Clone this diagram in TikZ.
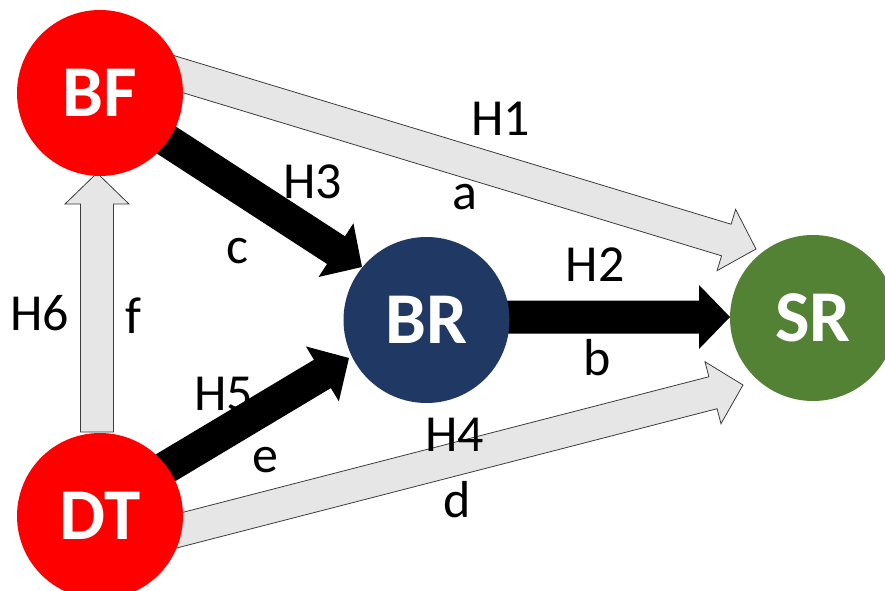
\documentclass[tikz,border=0pt]{standalone}
\usepackage{fontspec}
\setmainfont{Carlito}
\usetikzlibrary{calc,backgrounds}
\definecolor{nodered}{RGB}{255,0,0}
\definecolor{navyblue}{RGB}{31,56,100}
\definecolor{srgreen}{RGB}{84,130,53}
\definecolor{arrowgray}{RGB}{231,230,230}
\definecolor{edgegray}{RGB}{60,60,60}
\newcommand\blockarrow[3]{%
  \coordinate (ba-h) at ($(#2)!31pt!(#1)$);
  \path[#3] ($(#1)!16.5pt!-90:(#2)$) -- ($(ba-h)!16.5pt!90:(#1)$) -- ($(ba-h)!32pt!90:(#1)$) -- (#2) -- ($(ba-h)!32pt!-90:(#1)$) -- ($(ba-h)!16.5pt!-90:(#1)$) -- ($(#1)!16.5pt!90:(#2)$) -- cycle;
}
\begin{document}
\begin{tikzpicture}[x=1pt,y=1pt,
  circ/.style={circle, minimum size=166pt, inner sep=0pt, outer sep=0pt, text=white,
    font=\fontsize{73}{80}\selectfont\bfseries},
  lbl/.style={inner sep=0pt, font=\fontsize{52}{60}\selectfont},
  grayarrow/.style={fill=arrowgray, draw=edgegray, line width=0.8pt, line join=miter},
  blackarrow/.style={fill=black}]
\useasboundingbox (0,0) rectangle (885,590);
\node[circ, fill=nodered] (bf) at (100,497) {BF};
\node[circ, fill=nodered] (dt) at (100,74) {DT};
\node[circ, fill=navyblue] (br) at (426.5,270) {BR};
\node[circ, fill=srgreen] (sr) at (813,272) {SR};

\coordinate (s1) at ($(bf.center)+(30,33.5)$);
\coordinate (t1) at ($(sr.center)+(-57,69)$);
\coordinate (s2) at ($(dt.center)+(30,-27)$);
\coordinate (t2) at ($(sr.center)+(-70,-67)$);
\coordinate (s3) at ($(dt.center)+(-3,84)$);
\coordinate (t3) at ($(bf.center)+(-3,-80)$);
\coordinate (s4) at ($(bf.center)+(0,-4)$);
\coordinate (t4) at ($(br.center)+(-64.5,53)$);
\coordinate (s5) at ($(dt.center)+(0,9)$);
\coordinate (t5) at ($(br.center)+(-77.5,-38)$);
\coordinate (s6) at ($(br.center)+(0,3)$);
\coordinate (t6) at ($(sr.center)+(-83,1)$);

\begin{scope}[on background layer]
  \blockarrow{s1}{t1}{grayarrow}
  \blockarrow{s2}{t2}{grayarrow}
  \blockarrow{s3}{t3}{grayarrow}
  \blockarrow{s4}{t4}{blackarrow}
  \blockarrow{s5}{t5}{blackarrow}
  \blockarrow{s6}{t6}{blackarrow}
\end{scope}

\node[lbl] (h1) at (500.5,471.5) {H1};
\node[lbl] (la) at (465,392.5) {a};
\node[lbl] (h3) at (312.5,408.5) {H3};
\node[lbl] (lc) at (237,338.5) {c};
\node[lbl] (h2) at (595,325) {H2};
\node[lbl] (lb) at (597,232.5) {b};
\node[lbl] (h6) at (39.5,276.5) {H6};
\node[lbl] (lf) at (133,274.5) {f};
\node[lbl] (h5) at (223.5,196.5) {H5};
\node[lbl] (le) at (265,129.5) {e};
\node[lbl] (h4) at (454.5,155) {H4};
\node[lbl] (ld) at (457,90.5) {d};
\end{tikzpicture}
\end{document}
